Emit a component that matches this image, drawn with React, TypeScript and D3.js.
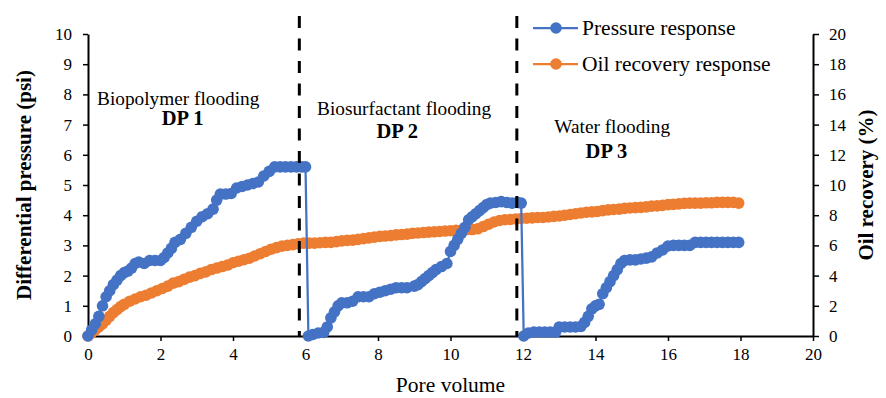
import React, { useEffect, useRef } from 'react';
import * as d3 from 'd3';

// [pore volume, differential pressure (psi)]
const pressureData: [number, number][] = [
  [0, 0], [0.1, 0.2], [0.2, 0.4], [0.3, 0.65], [0.4, 1.0], [0.5, 1.3], [0.6, 1.5], [0.7, 1.7],
  [0.8, 1.85], [0.9, 2.0], [1.0, 2.1], [1.1, 2.15], [1.2, 2.25], [1.3, 2.4], [1.4, 2.45], [1.55, 2.4],
  [1.7, 2.5], [1.85, 2.5], [2.0, 2.5], [2.1, 2.6], [2.2, 2.75], [2.3, 2.9], [2.4, 3.1], [2.55, 3.2],
  [2.7, 3.4], [2.85, 3.6], [3.0, 3.8], [3.15, 3.95], [3.3, 4.05], [3.45, 4.2], [3.55, 4.5], [3.65, 4.7],
  [3.8, 4.7], [3.95, 4.72], [4.1, 4.9], [4.25, 4.95], [4.4, 5.0], [4.55, 5.05], [4.7, 5.1], [4.85, 5.3],
  [5.0, 5.45], [5.15, 5.6], [5.3, 5.6], [5.45, 5.6], [5.6, 5.6], [5.75, 5.6], [5.9, 5.6], [6.0, 5.6],
  [6.08, 0.0], [6.2, 0.05], [6.35, 0.1], [6.5, 0.12], [6.6, 0.3], [6.7, 0.6], [6.8, 0.8], [6.9, 1.0],
  [7.0, 1.1], [7.15, 1.1], [7.3, 1.15], [7.45, 1.3], [7.6, 1.3], [7.75, 1.3], [7.9, 1.4], [8.05, 1.45],
  [8.2, 1.5], [8.35, 1.55], [8.5, 1.6], [8.65, 1.6], [8.8, 1.6], [9.0, 1.65], [9.1, 1.7], [9.2, 1.8],
  [9.3, 1.9], [9.4, 2.0], [9.5, 2.1], [9.6, 2.2], [9.75, 2.3], [9.9, 2.4], [10.0, 2.8], [10.1, 3.0],
  [10.2, 3.2], [10.3, 3.4], [10.4, 3.6], [10.5, 3.85], [10.6, 3.95], [10.7, 4.05], [10.8, 4.15], [10.9, 4.25],
  [11.0, 4.35], [11.1, 4.4], [11.25, 4.42], [11.4, 4.45], [11.55, 4.42], [11.7, 4.4], [11.85, 4.42], [11.95, 4.4],
  [12.02, 0], [12.15, 0.1], [12.3, 0.13], [12.45, 0.13], [12.6, 0.13], [12.75, 0.13], [12.9, 0.13], [13.0, 0.3],
  [13.15, 0.3], [13.3, 0.3], [13.45, 0.3], [13.6, 0.32], [13.7, 0.45], [13.8, 0.65], [13.9, 0.9], [14.0, 1.0],
  [14.1, 1.05], [14.2, 1.4], [14.3, 1.6], [14.4, 1.8], [14.5, 2.0], [14.6, 2.2], [14.7, 2.4], [14.8, 2.5],
  [14.95, 2.52], [15.1, 2.52], [15.25, 2.55], [15.4, 2.58], [15.55, 2.62], [15.7, 2.75], [15.85, 2.85], [16.0, 2.98],
  [16.15, 3.0], [16.3, 3.0], [16.45, 3.0], [16.6, 3.0], [16.75, 3.1], [16.9, 3.1], [17.05, 3.1], [17.2, 3.1],
  [17.35, 3.1], [17.5, 3.1], [17.65, 3.1], [17.8, 3.1], [17.95, 3.1],
];

// [pore volume, oil recovery (%)]
const oilData: [number, number][] = [
  [0, 0], [0.1, 0.2], [0.2, 0.4], [0.3, 0.6], [0.4, 0.8], [0.5, 1.05], [0.6, 1.3], [0.7, 1.55],
  [0.8, 1.75], [0.9, 1.95], [1.0, 2.1], [1.15, 2.3], [1.3, 2.45], [1.45, 2.6], [1.6, 2.7], [1.75, 2.85],
  [1.9, 3.0], [2.05, 3.15], [2.2, 3.3], [2.35, 3.5], [2.5, 3.6], [2.65, 3.75], [2.8, 3.9], [2.95, 4.0],
  [3.1, 4.15], [3.25, 4.25], [3.4, 4.4], [3.55, 4.5], [3.7, 4.6], [3.85, 4.7], [4.0, 4.85], [4.15, 4.95],
  [4.3, 5.05], [4.45, 5.15], [4.6, 5.3], [4.75, 5.45], [4.9, 5.6], [5.05, 5.75], [5.2, 5.85], [5.35, 5.95],
  [5.5, 6.0], [5.65, 6.05], [5.8, 6.1], [5.95, 6.15], [6.1, 6.15], [6.25, 6.15], [6.4, 6.18], [6.55, 6.2],
  [6.7, 6.2], [6.85, 6.25], [7.0, 6.3], [7.15, 6.33], [7.3, 6.35], [7.45, 6.4], [7.6, 6.45], [7.75, 6.5],
  [7.9, 6.55], [8.05, 6.6], [8.2, 6.62], [8.35, 6.65], [8.5, 6.7], [8.65, 6.72], [8.8, 6.75], [8.95, 6.8],
  [9.1, 6.82], [9.25, 6.85], [9.4, 6.88], [9.55, 6.9], [9.7, 6.92], [9.85, 6.95], [10.0, 6.97], [10.15, 7.0],
  [10.3, 7.02], [10.45, 7.05], [10.6, 7.05], [10.75, 7.1], [10.9, 7.25], [11.05, 7.4], [11.2, 7.55], [11.35, 7.65],
  [11.5, 7.7], [11.65, 7.72], [11.8, 7.75], [11.95, 7.78], [12.1, 7.8], [12.25, 7.82], [12.4, 7.85], [12.55, 7.85],
  [12.7, 7.88], [12.85, 7.92], [13.0, 7.95], [13.15, 8.0], [13.3, 8.05], [13.45, 8.1], [13.6, 8.15], [13.75, 8.2],
  [13.9, 8.22], [14.05, 8.25], [14.2, 8.3], [14.35, 8.35], [14.5, 8.38], [14.65, 8.4], [14.8, 8.45], [14.95, 8.48],
  [15.1, 8.5], [15.25, 8.52], [15.4, 8.55], [15.55, 8.6], [15.7, 8.62], [15.85, 8.65], [16.0, 8.7], [16.15, 8.72],
  [16.3, 8.75], [16.45, 8.78], [16.6, 8.8], [16.75, 8.8], [16.9, 8.8], [17.05, 8.82], [17.2, 8.82], [17.35, 8.85],
  [17.5, 8.85], [17.65, 8.85], [17.8, 8.85], [17.95, 8.8],
];

// phase boundaries (pore volume) and annotations (positions in axis units)
const boundaries = [5.83, 11.83];
const phases = [
  { name: 'Biopolymer flooding', dp: 'DP 1', x: 2.49, y: 7.65, dpx: 2.61, dpy: 6.99 },
  { name: 'Biosurfactant flooding', dp: 'DP 2', x: 8.72, y: 7.32, dpx: 8.53, dpy: 6.56 },
  { name: 'Water flooding', dp: 'DP 3', x: 14.46, y: 6.72, dpx: 14.3, dpy: 5.89 },
];
const xTicks = [0, 2, 4, 6, 8, 10, 12, 14, 16, 18, 20];
const yTicks = [0, 1, 2, 3, 4, 5, 6, 7, 8, 9, 10];
const y2Ticks = [0, 2, 4, 6, 8, 10, 12, 14, 16, 18, 20];

const BLUE = '#4472C4';
const ORANGE = '#ED7D31';
const FONT = 'Liberation Serif, Times New Roman, Times, serif';

export default function App() {
  const svgRef = useRef<SVGSVGElement>(null);
  const width = 886;
  const height = 398;

  useEffect(() => {
    const svg = d3.select(svgRef.current);
    svg.selectAll('*').remove();

    const x = d3.scaleLinear().domain([0, 20]).range([88, 813]);
    const y = d3.scaleLinear().domain([0, 10]).range([336, 34]);
    const y2 = d3.scaleLinear().domain([0, 20]).range([336, 34]);

    // axes
    const xAxis = svg.append('g').attr('transform', `translate(0,${y(0)})`)
      .call(d3.axisBottom(x).tickValues(xTicks).tickSize(5).tickSizeOuter(0));
    const yAxis = svg.append('g').attr('transform', `translate(${x(0)},0)`)
      .call(d3.axisLeft(y).tickValues(yTicks).tickSize(5).tickSizeOuter(0));
    const y2Axis = svg.append('g').attr('transform', `translate(${x(20)},0)`)
      .call(d3.axisRight(y2).tickValues(y2Ticks).tickSize(6).tickSizeOuter(0));

    [xAxis, yAxis, y2Axis].forEach(g => {
      g.attr('font-family', FONT).attr('font-size', 17);
      g.select('.domain').attr('stroke', '#000').attr('stroke-width', 2);
      g.selectAll('.tick line').attr('stroke', '#000').attr('stroke-width', 1.5);
      g.selectAll('.tick text').attr('fill', '#000');
    });
    xAxis.selectAll('.tick text').attr('y', 12);
    yAxis.selectAll('.tick text').attr('x', -16);
    y2Axis.selectAll('.tick text').attr('x', 16);

    // oil recovery series (secondary axis)
    const oilLine = d3.line<[number, number]>().x(d => x(d[0])).y(d => y2(d[1]));
    svg.append('path').datum(oilData).attr('d', oilLine)
      .attr('fill', 'none').attr('stroke', ORANGE).attr('stroke-width', 2.25);
    svg.append('g').selectAll('circle').data(oilData).enter().append('circle')
      .attr('cx', d => x(d[0])).attr('cy', d => y2(d[1])).attr('r', 5.8).attr('fill', ORANGE);

    // pressure series
    const pLine = d3.line<[number, number]>().x(d => x(d[0])).y(d => y(d[1]));
    svg.append('path').datum(pressureData).attr('d', pLine)
      .attr('fill', 'none').attr('stroke', BLUE).attr('stroke-width', 2.25);
    svg.append('g').selectAll('circle').data(pressureData).enter().append('circle')
      .attr('cx', d => x(d[0])).attr('cy', d => y(d[1])).attr('r', 5.8).attr('fill', BLUE);

    // phase boundaries
    svg.append('g').selectAll('line').data(boundaries).enter().append('line')
      .attr('x1', d => x(d)).attr('x2', d => x(d))
      .attr('y1', y(10.6)).attr('y2', y(0))
      .attr('stroke', '#000').attr('stroke-width', 3).attr('stroke-dasharray', '12,10.5');

    const txt = svg.append('g').attr('font-family', FONT).attr('fill', '#000');

    // phase annotations
    phases.forEach(p => {
      txt.append('text').attr('x', x(p.x)).attr('y', y(p.y))
        .attr('text-anchor', 'middle').attr('font-size', 19.3).text(p.name);
      txt.append('text').attr('x', x(p.dpx)).attr('y', y(p.dpy))
        .attr('text-anchor', 'middle').attr('font-size', 20.5)
        .attr('font-weight', 'bold').text(p.dp);
    });

    // axis titles
    txt.append('text').attr('x', (x(0) + x(20)) / 2).attr('y', 392)
      .attr('text-anchor', 'middle').attr('font-size', 21.5).text('Pore volume');
    txt.append('text').attr('transform', `translate(31,${(y(0) + y(10)) / 2}) rotate(-90)`)
      .attr('text-anchor', 'middle').attr('font-size', 21)
      .attr('font-weight', 'bold').text('Differential pressure (psi)');
    txt.append('text').attr('transform', `translate(873,${(y(0) + y(10)) / 2}) rotate(-90)`)
      .attr('text-anchor', 'middle').attr('font-size', 21)
      .attr('font-weight', 'bold').text('Oil recovery (%)');

    // legend
    const legend = [
      { label: 'Pressure response', color: BLUE, cy: 28 },
      { label: 'Oil recovery response', color: ORANGE, cy: 64 },
    ];
    legend.forEach(l => {
      svg.append('line').attr('x1', 533).attr('x2', 578).attr('y1', l.cy).attr('y2', l.cy)
        .attr('stroke', l.color).attr('stroke-width', 2.25);
      svg.append('circle').attr('cx', 556).attr('cy', l.cy).attr('r', 5.8).attr('fill', l.color);
      txt.append('text').attr('x', 582).attr('y', l.cy + 7)
        .attr('font-size', 21.5).text(l.label);
    });
  }, []);

  return (
    <svg ref={svgRef} width={width} height={height}
      style={{ position: 'absolute', left: 0, top: 0, background: '#fff' }} />
  );
}
